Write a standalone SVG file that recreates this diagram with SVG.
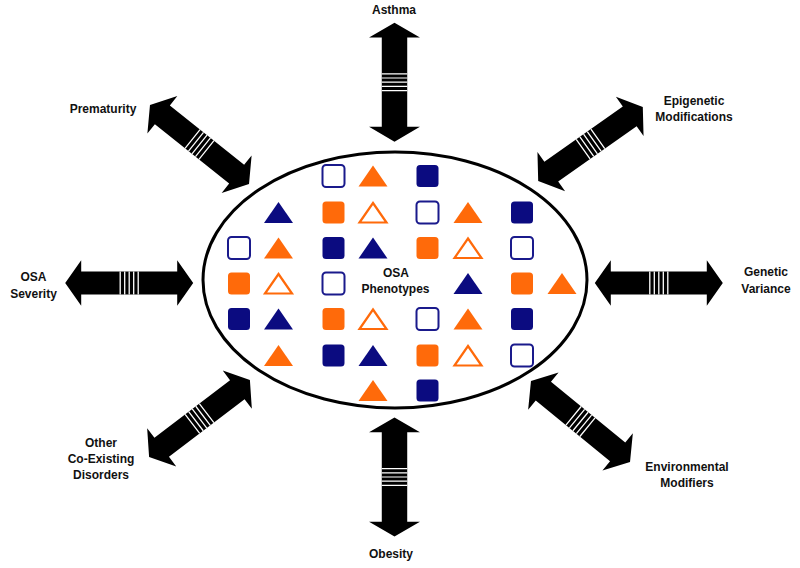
<svg xmlns="http://www.w3.org/2000/svg" xmlns:xlink="http://www.w3.org/1999/xlink" width="800" height="568" viewBox="0 0 800 568">
<style>
  .lbl { font-family: "Liberation Sans", Arial, sans-serif; font-weight: bold; font-size: 12px; fill: #111; text-anchor: middle; }
  .bs { fill: #0b0b80; }
  .bh { fill: #fff; stroke: #1a1a8c; stroke-width: 2; }
  .os { fill: #ff6a0a; }
  .ot { fill: #ff6a0a; }
  .oh { fill: #fff; stroke: #ff6a0a; stroke-width: 2.2; stroke-linejoin: miter; }
  .bt { fill: #0b0b80; }
  .stripe { stroke: #fff; stroke-width: 1.3; }
</style>
<defs>
  <g id="arrow">
    <path d="M -64,0 L -48,-24 L -48,-12 L 48,-12 L 48,-24 L 64,0 L 48,24 L 48,12 L -48,12 L -48,24 Z" fill="#000"/>
    <path class="stripe" d="M -9,-12 V 12 M -4.5,-12 V 12 M 0,-12 V 12 M 4.5,-12 V 12 M 9,-12 V 12"/>
  </g>
  <rect id="sq" x="-11" y="-11" width="22" height="22" rx="3.5"/>
  <polygon id="tri" points="0,-10.5 14.5,10.5 -14.5,10.5"/>
  <polygon id="trih" points="0,-9.5 13.5,10 -13.5,10"/>
</defs>
<rect width="800" height="568" fill="#fff"/>

<g id="connectors">
  <use xlink:href="#arrow" transform="translate(394.5,82.2) rotate(90) scale(0.93,1.06)"/>
  <use xlink:href="#arrow" transform="translate(394.5,477) rotate(90) scale(0.93,1.06)"/>
  <use xlink:href="#arrow" transform="translate(129.2,283) scale(1,0.95)"/>
  <use xlink:href="#arrow" transform="translate(658.8,283) scale(1,0.95)"/>
  <use xlink:href="#arrow" transform="translate(199.5,144.5) rotate(38.6) scale(0.99,1)"/>
  <use xlink:href="#arrow" transform="translate(590.5,144) rotate(-35.2) scale(1,1)"/>
  <use xlink:href="#arrow" transform="translate(199.5,418.5) rotate(-37.3) scale(0.99,1)"/>
  <use xlink:href="#arrow" transform="translate(580.5,421.5) rotate(39.3) scale(1,1)"/>
</g>

<g id="osa-phenotypes">
  <ellipse cx="395" cy="280" rx="192" ry="128" fill="#fff" stroke="#000" stroke-width="3"/>
  <!-- row 1 -->
  <use xlink:href="#sq" class="bh" x="333.5" y="176"/>
  <use xlink:href="#tri" class="ot" x="373" y="176"/>
  <use xlink:href="#sq" class="bs" x="427.5" y="176"/>
  <!-- row 2 -->
  <use xlink:href="#tri" class="bt" x="278.5" y="212.5"/>
  <use xlink:href="#sq" class="os" x="333.5" y="212.5"/>
  <use xlink:href="#trih" class="oh" x="373" y="212.5"/>
  <use xlink:href="#sq" class="bh" x="427.5" y="212.5"/>
  <use xlink:href="#tri" class="ot" x="468" y="212.5"/>
  <use xlink:href="#sq" class="bs" x="522" y="212.5"/>
  <!-- row 3 -->
  <use xlink:href="#sq" class="bh" x="239" y="248"/>
  <use xlink:href="#tri" class="ot" x="278.5" y="248"/>
  <use xlink:href="#sq" class="bs" x="333.5" y="248"/>
  <use xlink:href="#tri" class="bt" x="373" y="248"/>
  <use xlink:href="#sq" class="os" x="427.5" y="248"/>
  <use xlink:href="#trih" class="oh" x="468" y="248"/>
  <use xlink:href="#sq" class="bh" x="522" y="248"/>
  <!-- row 4 -->
  <use xlink:href="#sq" class="os" x="239" y="283.5"/>
  <use xlink:href="#trih" class="oh" x="278.5" y="283.5"/>
  <use xlink:href="#sq" class="bh" x="333.5" y="283.5"/>
  <use xlink:href="#tri" class="bt" x="468" y="283.5"/>
  <use xlink:href="#sq" class="os" x="522" y="283.5"/>
  <use xlink:href="#tri" class="ot" x="562" y="283.5"/>
  <!-- row 5 -->
  <use xlink:href="#sq" class="bs" x="239" y="319"/>
  <use xlink:href="#tri" class="bt" x="278.5" y="319"/>
  <use xlink:href="#sq" class="os" x="333.5" y="319"/>
  <use xlink:href="#trih" class="oh" x="373" y="319"/>
  <use xlink:href="#sq" class="bh" x="427.5" y="319"/>
  <use xlink:href="#tri" class="ot" x="468" y="319"/>
  <use xlink:href="#sq" class="bs" x="522" y="319"/>
  <!-- row 6 -->
  <use xlink:href="#tri" class="ot" x="278.5" y="355.5"/>
  <use xlink:href="#sq" class="bs" x="333.5" y="355.5"/>
  <use xlink:href="#tri" class="bt" x="373" y="355.5"/>
  <use xlink:href="#sq" class="os" x="427.5" y="355.5"/>
  <use xlink:href="#trih" class="oh" x="468" y="355.5"/>
  <use xlink:href="#sq" class="bh" x="522" y="355.5"/>
  <!-- row 7 -->
  <use xlink:href="#tri" class="ot" x="373" y="390.5"/>
  <use xlink:href="#sq" class="bs" x="427.5" y="390.5"/>
  <text class="lbl" x="396" y="277">OSA</text>
  <text class="lbl" x="395.5" y="293">Phenotypes</text>
</g>

<g id="asthma"><text class="lbl" x="394" y="14">Asthma</text></g>
<g id="obesity"><text class="lbl" x="391" y="558">Obesity</text></g>
<g id="osa-severity"><text class="lbl" x="33.5" y="281">OSA</text><text class="lbl" x="33.5" y="298">Severity</text></g>
<g id="genetic-variance"><text class="lbl" x="766" y="276">Genetic</text><text class="lbl" x="766" y="293">Variance</text></g>
<g id="prematurity"><text class="lbl" x="103" y="113">Prematurity</text></g>
<g id="epigenetic"><text class="lbl" x="694" y="105">Epigenetic</text><text class="lbl" x="694" y="121">Modifications</text></g>
<g id="other-disorders"><text class="lbl" x="101" y="447">Other</text><text class="lbl" x="101" y="463">Co-Existing</text><text class="lbl" x="101" y="479">Disorders</text></g>
<g id="environmental"><text class="lbl" x="687" y="471">Environmental</text><text class="lbl" x="687" y="487">Modifiers</text></g>
</svg>
